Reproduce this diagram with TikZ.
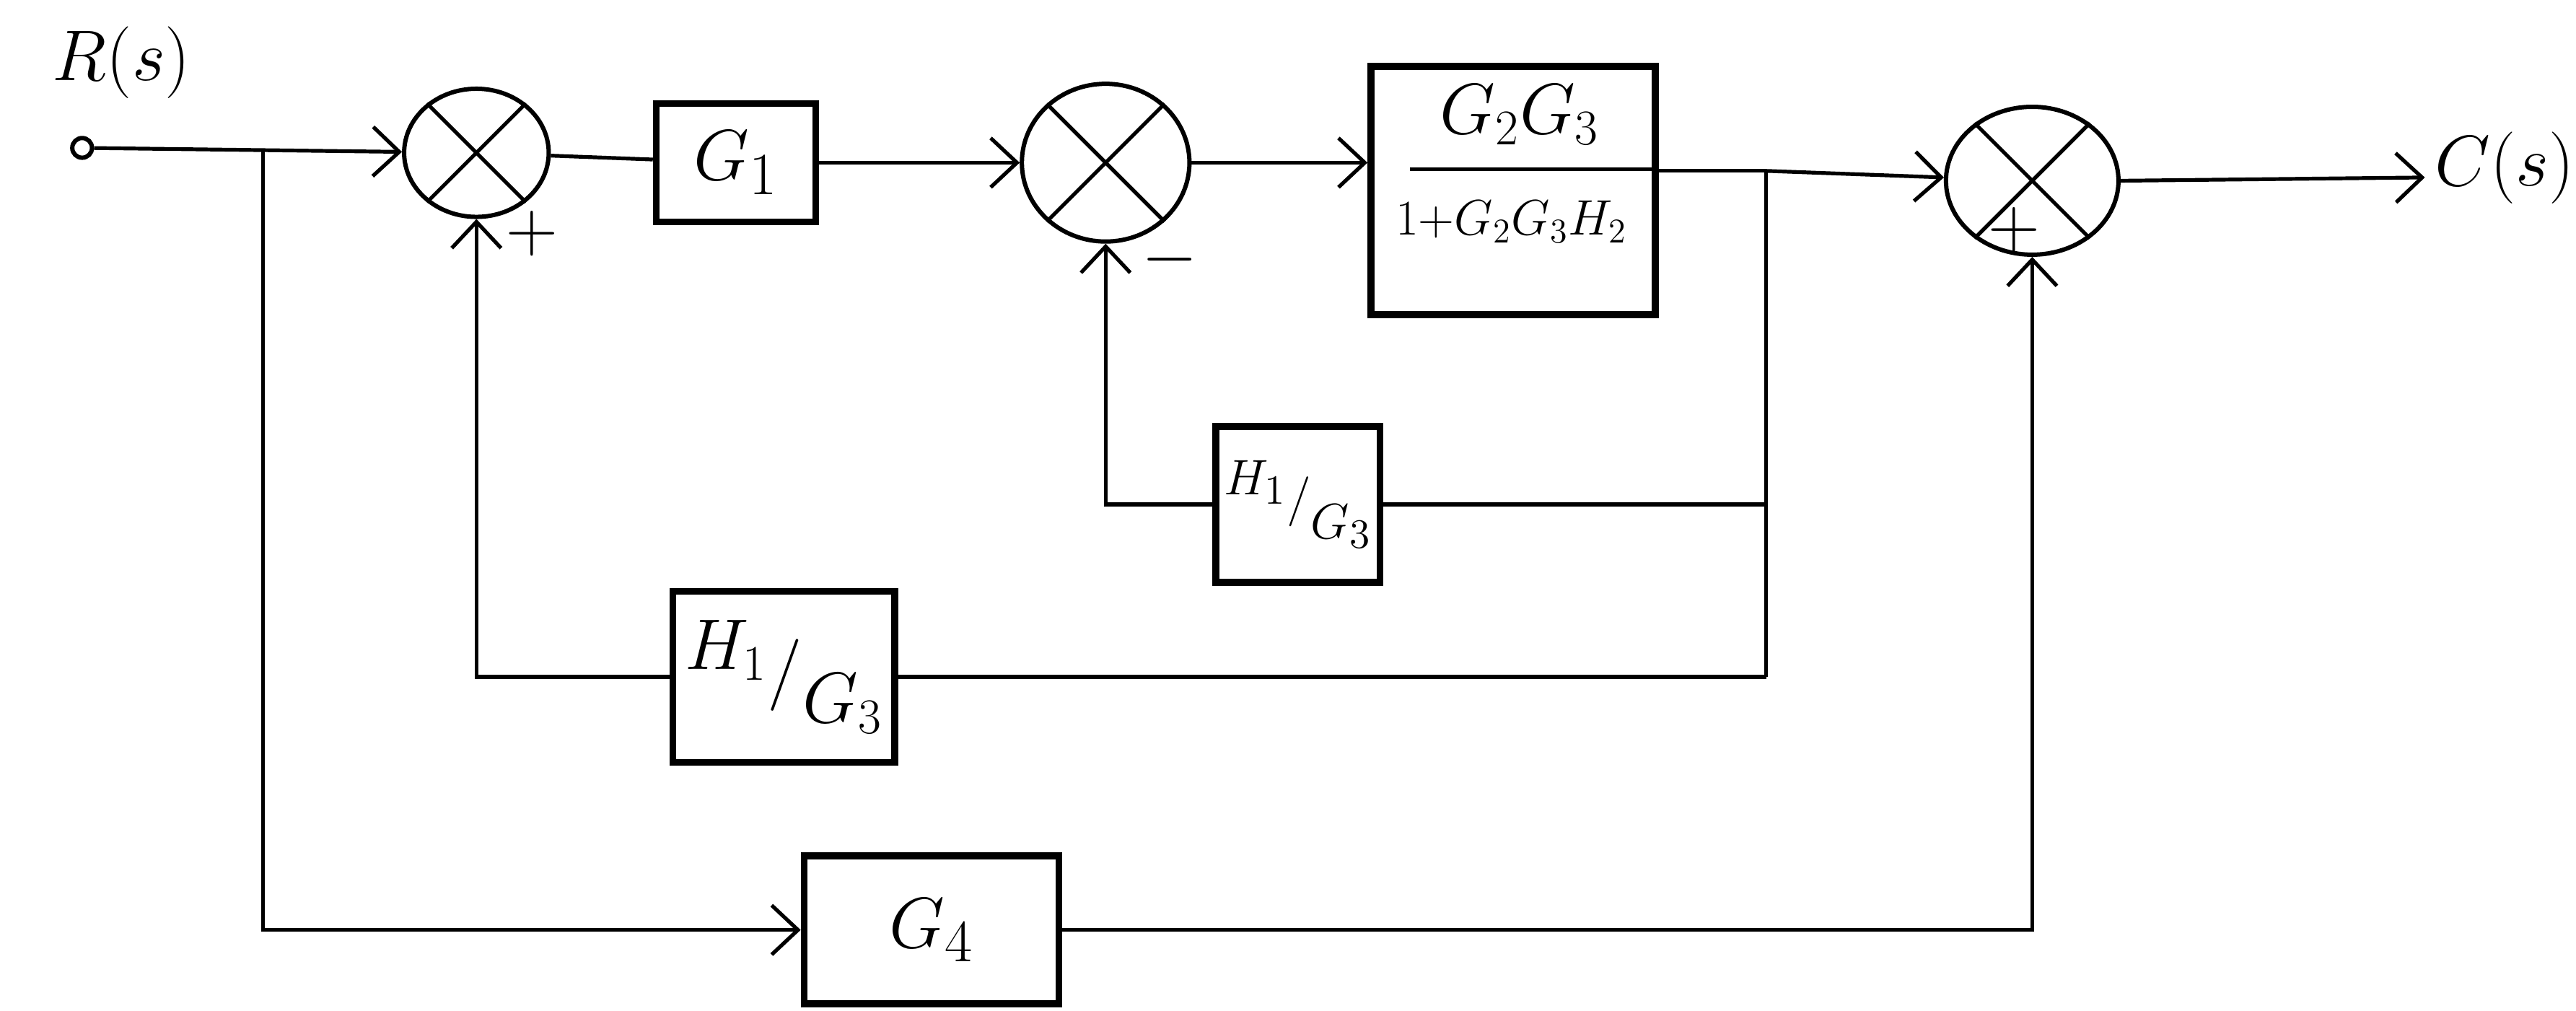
\documentclass[tikz,border=0pt]{standalone}
\usetikzlibrary{arrows.meta,shapes.geometric,calc}
\begin{document}
\begin{tikzpicture}[x=0.2mm,y=-0.2mm,
  line width=1.3pt,
  arr/.style={-{Straight Barb[length=3.2mm,width=6mm,line width=1.3pt]}},
  sumnode/.style={ellipse,draw,line width=1.5pt,inner sep=0pt},
  blk/.style={draw,line width=2.4pt,inner sep=2pt},
  lbl/.style={font=\fontsize{30}{34}\selectfont},
  fbl/.style={font=\fontsize{19}{24}\selectfont},
  sgn/.style={font=\fontsize{24}{26}\selectfont,inner sep=0pt}]
\useasboundingbox (0,0) rectangle (1568,615);

% input
\node[circle,draw,fill=white,inner sep=0pt,minimum size=2.4mm,line width=1.5pt] (in) at (50,90) {};
\node[lbl] (R) at (74,38) {$R(s)$};
\coordinate (b1) at (160,91);

% summing points
\node[sumnode,minimum width=17.6mm,minimum height=15.6mm] (s1) at (290,93) {};
\draw (s1.45) -- (s1.225) (s1.135) -- (s1.315);
\node[sumnode,minimum width=20.4mm,minimum height=19.2mm] (s2) at (673,99) {};
\draw (s2.45) -- (s2.225) (s2.135) -- (s2.315);
\node[sumnode,minimum width=21mm,minimum height=18mm] (s3) at (1237,110) {};
\draw (s3.45) -- (s3.225) (s3.135) -- (s3.315);

% blocks
\node[blk,lbl,minimum width=19.4mm,minimum height=14.4mm] (G1) at (448,99) {$G_1$};
\node[blk,minimum width=34.6mm,minimum height=30.2mm] (G23) at (921,116) {};
\node[font=\fontsize{26}{30}\selectfont] (num) at (925,70) {$G_2G_3$};
\node[font=\fontsize{18}{22}\selectfont] (den) at (920,135) {$1{+}G_2G_3H_2$};
\coordinate (barL) at (858,103);
\draw (barL) -- (barL -| G23.east);
\node[blk,fbl,minimum width=20mm,minimum height=19mm] (Ha) at (790,307)
  {$\raisebox{.35em}{$H_1$}/\raisebox{-.45em}{$G_3$}$};
\node[blk,minimum width=27mm,minimum height=20.8mm,font=\fontsize{23}{28}\selectfont] (Hb) at (477,412)
  {$\raisebox{.35em}{$H_1$}/\raisebox{-.45em}{$G_3$}$};
\node[blk,lbl,minimum width=31mm,minimum height=18mm] (G4) at (567,566) {$G_4$};

% take-off points and output
\coordinate (b2) at (1075,104);
\coordinate (c1) at (1075,307);
\coordinate (c2) at (1075,412);
\coordinate (out) at (1476,108);
\node[font=\fontsize{25}{28}\selectfont,inner sep=0pt,anchor=west] (C) at (1481,102) {$C(s)$};

% forward path
\draw[arr] (in) -- (s1);
\draw (s1) -- (G1);
\draw[arr] (G1) -- (s2);
\draw[arr] (s2.east) -- (s2.east -| G23.west);
\draw (G23.east |- b2) -- (b2);
\draw[arr] (b2) -- (s3);
\draw[arr] (s3.east) -- (out);

% feed-forward G4
\draw[arr] (b1) |- (G4);
\draw[arr] (G4) -| (s3);

% feedback loops
\draw (b2) -- (c2);
\draw (c1) -- (Ha);
\draw[arr] (Ha) -| (s2);
\draw (c2) -- (Hb);
\draw[arr] (Hb) -| (s1);

% signs
\node[sgn] (p1) at (324,142) {$+$};
\node[sgn] (m2) at (712,158) {$-$};
\node[sgn] (p3) at (1226,140) {$+$};
\end{tikzpicture}
\end{document}
